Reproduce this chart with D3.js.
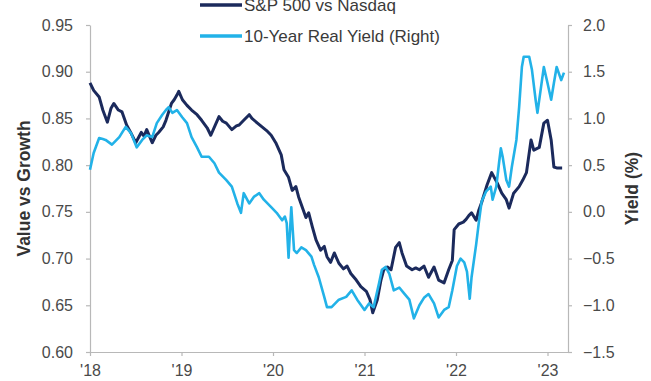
<!DOCTYPE html>
<html>
<head>
<meta charset="utf-8">
<script src="https://cdn.jsdelivr.net/npm/d3@7"></script>
<style>
  html, body { margin: 0; padding: 0; background: #fff; }
  svg { display: block; }
  text { font-family: "Liberation Sans", Arial, sans-serif; }
</style>
</head>
<body>
<svg id="chart" width="651" height="381"></svg>
<script>
// S&P 500 vs Nasdaq ratio (left axis), dates as decimal years
const ratioDates = [
  2018.00, 2018.04, 2018.10, 2018.14, 2018.19, 2018.23, 2018.26, 2018.31, 2018.35, 2018.40,
  2018.45, 2018.50, 2018.56, 2018.59, 2018.62, 2018.68, 2018.72, 2018.75, 2018.80, 2018.83,
  2018.89, 2018.92, 2018.95, 2018.97, 2019.01, 2019.06, 2019.11, 2019.17, 2019.22, 2019.28,
  2019.32, 2019.37, 2019.41, 2019.45, 2019.49, 2019.55, 2019.60, 2019.63, 2019.68, 2019.74,
  2019.77, 2019.83, 2019.88, 2019.93, 2019.98, 2020.03, 2020.09, 2020.12, 2020.17, 2020.21,
  2020.25, 2020.28, 2020.32, 2020.36, 2020.39, 2020.43, 2020.47, 2020.52, 2020.56, 2020.59,
  2020.63, 2020.67, 2020.72, 2020.77, 2020.81, 2020.85, 2020.91, 2020.96, 2021.02, 2021.06,
  2021.09, 2021.14, 2021.18, 2021.21, 2021.25, 2021.29, 2021.34, 2021.38, 2021.41, 2021.46,
  2021.52, 2021.56, 2021.60, 2021.65, 2021.70, 2021.76, 2021.81, 2021.87, 2021.92, 2021.96,
  2021.98, 2022.03, 2022.08, 2022.11, 2022.14, 2022.17, 2022.22, 2022.25, 2022.28, 2022.34,
  2022.39, 2022.45, 2022.50, 2022.55, 2022.58, 2022.63, 2022.69, 2022.73, 2022.77, 2022.82,
  2022.85, 2022.91, 2022.96, 2023.00, 2023.04, 2023.07, 2023.10, 2023.16
];
const ratioValues = [
  0.888, 0.880, 0.873, 0.859, 0.846, 0.861, 0.866, 0.859, 0.857, 0.843,
  0.834, 0.824, 0.835, 0.831, 0.838, 0.824, 0.832, 0.835, 0.841, 0.848,
  0.866, 0.870, 0.875, 0.879, 0.870, 0.864, 0.859, 0.854, 0.848, 0.840,
  0.832, 0.843, 0.852, 0.847, 0.845, 0.838, 0.842, 0.843, 0.848, 0.854,
  0.850, 0.845, 0.841, 0.837, 0.832, 0.824, 0.811, 0.795, 0.787, 0.773,
  0.777, 0.766, 0.755, 0.744, 0.749, 0.734, 0.720, 0.709, 0.713, 0.702,
  0.696, 0.706, 0.695, 0.689, 0.692, 0.684, 0.677, 0.670, 0.665, 0.656,
  0.642, 0.656, 0.677, 0.688, 0.691, 0.688, 0.712, 0.717, 0.706, 0.692,
  0.688, 0.690, 0.688, 0.692, 0.680, 0.691, 0.677, 0.674, 0.688, 0.698,
  0.731, 0.737, 0.739, 0.742, 0.746, 0.749, 0.741, 0.752, 0.760, 0.779,
  0.792, 0.781, 0.770, 0.763, 0.754, 0.770, 0.777, 0.784, 0.792, 0.827,
  0.816, 0.819, 0.845, 0.848, 0.827, 0.798, 0.797, 0.797
];

// 10-Year real yield in % (right axis)
const yieldDates = [
  2018.00, 2018.04, 2018.10, 2018.14, 2018.17, 2018.24, 2018.32, 2018.39, 2018.45, 2018.51,
  2018.57, 2018.62, 2018.68, 2018.73, 2018.79, 2018.83, 2018.86, 2018.90, 2018.95, 2019.01,
  2019.06, 2019.11, 2019.17, 2019.22, 2019.30, 2019.36, 2019.41, 2019.49, 2019.55, 2019.61,
  2019.65, 2019.68, 2019.74, 2019.79, 2019.85, 2019.90, 2019.98, 2020.04, 2020.10, 2020.13,
  2020.15, 2020.17, 2020.20, 2020.23, 2020.26, 2020.31, 2020.36, 2020.42, 2020.45, 2020.50,
  2020.56, 2020.59, 2020.64, 2020.72, 2020.80, 2020.86, 2020.92, 2021.00, 2021.05, 2021.10,
  2021.16, 2021.19, 2021.23, 2021.27, 2021.32, 2021.38, 2021.43, 2021.49, 2021.54, 2021.60,
  2021.65, 2021.70, 2021.76, 2021.81, 2021.87, 2021.92, 2021.96, 2022.01, 2022.05, 2022.09,
  2022.12, 2022.15, 2022.17, 2022.22, 2022.25, 2022.28, 2022.33, 2022.38, 2022.40, 2022.44,
  2022.47, 2022.49, 2022.51, 2022.55, 2022.58, 2022.61, 2022.66, 2022.69, 2022.72, 2022.74,
  2022.80, 2022.83, 2022.87, 2022.89, 2022.93, 2022.96, 2023.00, 2023.04, 2023.07, 2023.10,
  2023.15, 2023.18
];
const yieldValues = [
  0.45, 0.63, 0.79, 0.78, 0.77, 0.72, 0.80, 0.91, 0.84, 0.69,
  0.77, 0.82, 0.80, 0.95, 1.04, 1.09, 1.12, 1.06, 1.09, 1.01,
  0.95, 0.80, 0.69, 0.59, 0.59, 0.52, 0.42, 0.34, 0.27, 0.09,
  -0.01, 0.20, 0.09, 0.16, 0.20, 0.13, 0.05, -0.01, -0.09, -0.05,
  -0.12, -0.49, 0.05, -0.41, -0.44, -0.38, -0.41, -0.48, -0.57, -0.70,
  -0.91, -1.02, -1.02, -0.94, -0.91, -0.84, -0.94, -1.05, -0.98, -1.02,
  -0.76, -0.62, -0.59, -0.66, -0.84, -0.81, -0.87, -0.94, -1.14, -1.00,
  -0.92, -0.88, -0.98, -1.13, -1.05, -1.02, -0.84, -0.58, -0.50, -0.54,
  -0.64, -0.93, -0.70, -0.35, -0.11, 0.11, 0.22, 0.27, 0.13, 0.27,
  0.52, 0.68, 0.59, 0.34, 0.27, 0.48, 0.77, 1.12, 1.55, 1.66,
  1.66, 1.52, 1.20, 1.06, 1.34, 1.55, 1.38, 1.20, 1.38, 1.55,
  1.41, 1.49
];

const yearTicks = [2018, 2019, 2020, 2021, 2022, 2023];
const leftTicks = [0.60, 0.65, 0.70, 0.75, 0.80, 0.85, 0.90, 0.95];
const rightTicks = [-1.5, -1.0, -0.5, 0.0, 0.5, 1.0, 1.5, 2.0];

const seriesNames = ["S&P 500 vs Nasdaq", "10-Year Real Yield (Right)"];
const seriesColors = ["#1b2a5c", "#22b2e8"];
const axisTitles = ["Value vs Growth", "Yield (%)"];

const svg = d3.select("#chart");
const plot = { left: 90, right: 568, top: 25, bottom: 352 };

const x = d3.scaleLinear()
  .domain([2018, 2023 + (plot.right - plot.left - 5 * 91.5) / 91.5])
  .range([plot.left, plot.right]);
const yL = d3.scaleLinear().domain([0.60, 0.95]).range([plot.bottom, plot.top]);
const yR = d3.scaleLinear().domain([-1.5, 2.0]).range([plot.bottom, plot.top]);

const axisColor = "#b8b8b8";
const tickTextColor = "#4a4a4a";

function styleAxis(g) {
  g.selectAll(".domain").attr("stroke", axisColor).attr("stroke-width", 1.2);
  g.selectAll(".tick line").attr("stroke", axisColor).attr("stroke-width", 1.2);
  g.selectAll(".tick text")
    .attr("fill", tickTextColor)
    .style("font-size", "16px");
}

// Left axis
svg.append("g")
  .attr("transform", `translate(${plot.left},0)`)
  .call(d3.axisLeft(yL).tickValues(leftTicks).tickFormat(d3.format(".2f"))
    .tickSizeInner(4).tickSizeOuter(0).tickPadding(13))
  .call(styleAxis);

// Right axis
svg.append("g")
  .attr("transform", `translate(${plot.right},0)`)
  .call(d3.axisRight(yR).tickValues(rightTicks).tickFormat(d3.format(".1f"))
    .tickSizeInner(4).tickSizeOuter(0).tickPadding(11))
  .call(styleAxis);

// Bottom axis
svg.append("g")
  .attr("transform", `translate(0,${plot.bottom})`)
  .call(d3.axisBottom(x).tickValues(yearTicks).tickFormat(d => "'" + String(d).slice(2))
    .tickSizeInner(4).tickSizeOuter(0).tickPadding(9))
  .call(styleAxis);

// Axis titles
svg.append("text")
  .attr("transform", `translate(24,${(plot.top + plot.bottom) / 2}) rotate(-90)`)
  .attr("text-anchor", "middle")
  .attr("dominant-baseline", "central")
  .attr("fill", "#333")
  .style("font-size", "17.5px")
  .style("font-weight", "bold")
  .text(axisTitles[0]);

svg.append("text")
  .attr("transform", `translate(632,${(plot.top + plot.bottom) / 2}) rotate(-90)`)
  .attr("text-anchor", "middle")
  .attr("dominant-baseline", "central")
  .attr("fill", "#333")
  .style("font-size", "17.5px")
  .style("font-weight", "bold")
  .text(axisTitles[1]);

// Lines
const ratioData = ratioDates.map((d, i) => [d, ratioValues[i]]);
const yieldData = yieldDates.map((d, i) => [d, yieldValues[i]]);

const lineL = d3.line().x(d => x(d[0])).y(d => yL(d[1])).curve(d3.curveLinear);
const lineR = d3.line().x(d => x(d[0])).y(d => yR(d[1])).curve(d3.curveLinear);

svg.append("path")
  .datum(ratioData)
  .attr("fill", "none")
  .attr("stroke", seriesColors[0])
  .attr("stroke-width", 3)
  .attr("stroke-linejoin", "round")
  .attr("d", lineL);

svg.append("path")
  .datum(yieldData)
  .attr("fill", "none")
  .attr("stroke", seriesColors[1])
  .attr("stroke-width", 2.6)
  .attr("stroke-linejoin", "round")
  .attr("d", lineR);

// Legend
const legend = svg.append("g");
const legendRows = [5, 36];
seriesNames.forEach((name, i) => {
  legend.append("line")
    .attr("x1", 200).attr("x2", 242)
    .attr("y1", legendRows[i]).attr("y2", legendRows[i])
    .attr("stroke", seriesColors[i])
    .attr("stroke-width", 3.5);
  legend.append("text")
    .attr("x", 244)
    .attr("y", legendRows[i])
    .attr("dominant-baseline", "central")
    .attr("fill", "#3a3a3a")
    .style("font-size", "17px")
    .text(name);
});
</script>
</body>
</html>
